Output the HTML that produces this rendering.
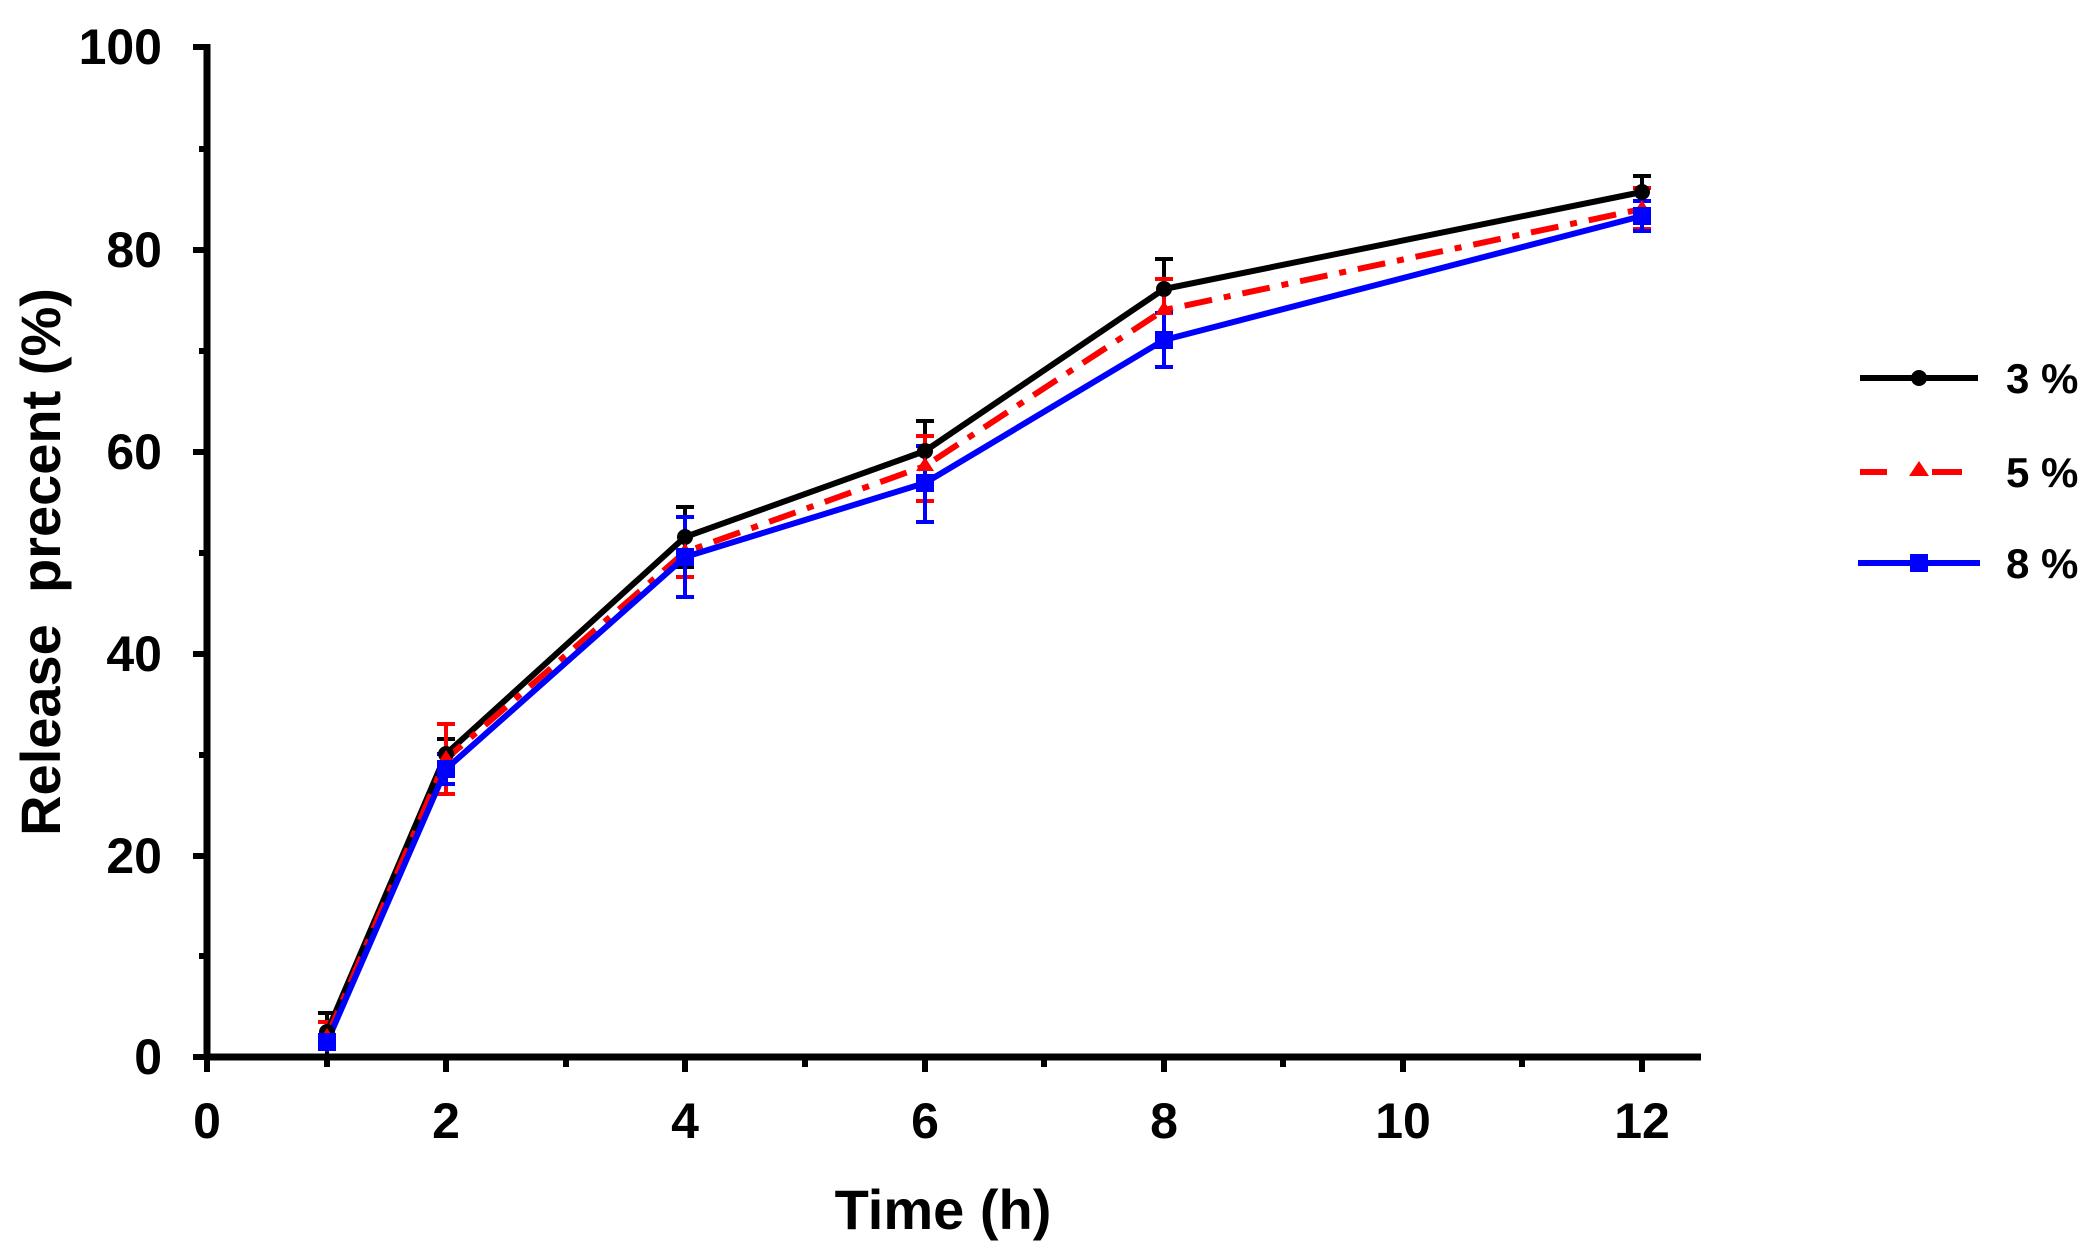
<!DOCTYPE html>
<html><head><meta charset="utf-8"><style>
html,body{margin:0;padding:0;background:#fff;}
svg{display:block;font-family:"Liberation Sans",Arial,sans-serif;font-weight:bold;}
</style></head><body>
<svg width="2097" height="1256" viewBox="0 0 2097 1256" xmlns="http://www.w3.org/2000/svg">
<g stroke="#000" stroke-width="7" fill="none">
<line x1="207" y1="44" x2="207" y2="1060"/>
<line x1="204" y1="1057" x2="1701" y2="1057"/>
<g stroke-width="6">
<line x1="193" y1="1057" x2="207" y2="1057"/><line x1="193" y1="856" x2="207" y2="856"/>
<line x1="193" y1="654" x2="207" y2="654"/><line x1="193" y1="452" x2="207" y2="452"/>
<line x1="193" y1="250" x2="207" y2="250"/><line x1="193" y1="47" x2="207" y2="47"/>
<line x1="199" y1="956" x2="207" y2="956"/><line x1="199" y1="755" x2="207" y2="755"/>
<line x1="199" y1="553" x2="207" y2="553"/><line x1="199" y1="351" x2="207" y2="351"/>
<line x1="199" y1="149" x2="207" y2="149"/>
<line x1="207" y1="1057" x2="207" y2="1072"/><line x1="446" y1="1057" x2="446" y2="1072"/>
<line x1="685" y1="1057" x2="685" y2="1072"/><line x1="925" y1="1057" x2="925" y2="1072"/>
<line x1="1164" y1="1057" x2="1164" y2="1072"/><line x1="1403" y1="1057" x2="1403" y2="1072"/>
<line x1="1642" y1="1057" x2="1642" y2="1072"/>
<line x1="327" y1="1057" x2="327" y2="1067"/><line x1="566" y1="1057" x2="566" y2="1067"/>
<line x1="805" y1="1057" x2="805" y2="1067"/><line x1="1044" y1="1057" x2="1044" y2="1067"/>
<line x1="1283" y1="1057" x2="1283" y2="1067"/><line x1="1522" y1="1057" x2="1522" y2="1067"/>
</g>
</g>
<g font-size="50" text-anchor="end">
<text x="162" y="1074">0</text><text x="162" y="873">20</text><text x="162" y="671">40</text>
<text x="162" y="469">60</text><text x="162" y="267">80</text><text x="162" y="64">100</text>
</g>
<g font-size="50" text-anchor="middle">
<text x="207" y="1138">0</text><text x="446" y="1138">2</text><text x="685" y="1138">4</text>
<text x="925" y="1138">6</text><text x="1164" y="1138">8</text><text x="1403" y="1138">10</text>
<text x="1642" y="1138">12</text>
<text x="943" y="1229" font-size="56">Time (h)</text>
<text transform="translate(60,562) rotate(-90)" font-size="56" xml:space="preserve">Release  precent (%)</text>
</g>
<g stroke-width="4" fill="none">
<g stroke="#000">
<path d="M327 1013V1057M318 1013H336M446 739V774M437 739H455M437 774H455M685 507V567M676 507H694M676 567H694M925 421V481M916 421H934M916 481H934M1164 259V320M1155 259H1173M1642 176V207M1633 176H1651"/>
</g>
<g stroke="#f00">
<path d="M327 1022V1052M318 1022H336M446 724V794M437 724H455M437 794H455M685 517V577M676 517H694M676 577H694M925 436V501M916 436H934M916 501H934M1164 279V340M1155 279H1173M1155 340H1173M1642 188V229M1633 188H1651M1633 229H1651"/>
</g>
<g stroke="#00f">
<path d="M327 1030V1052M446 754V784M437 754H455M437 784H455M685 517V597M676 517H694M676 597H694M925 446V522M916 446H934M916 522H934M1164 313V367M1155 313H1173M1155 367H1173M1642 201V231M1633 201H1651M1633 231H1651"/>
</g>
</g>
<polyline fill="none" stroke="#000" stroke-width="6" points="327,1032 446,754 685,537 925,451 1164,289 1642,192"/>
<polyline fill="none" stroke="#f00" stroke-width="6" stroke-dasharray="28,12,7,12" points="327,1037 446,759 685,552 925,466 1164,310 1642,209"/>
<polyline fill="none" stroke="#00f" stroke-width="6" points="327,1042 446,769 685,557 925,483 1164,340 1642,216"/>
<g fill="#000"><circle cx="327" cy="1032" r="8"/><circle cx="446" cy="754" r="8"/><circle cx="685" cy="537" r="8"/><circle cx="925" cy="451" r="8"/><circle cx="1164" cy="289" r="8"/><circle cx="1642" cy="192" r="8"/></g>
<g fill="#f00"><path d="M327 1028l9 14h-18z"/><path d="M446 750l9 14h-18z"/><path d="M685 543l9 14h-18z"/><path d="M925 457l9 14h-18z"/><path d="M1164 301l9 14h-18z"/><path d="M1642 200l9 14h-18z"/></g>
<g fill="#00f"><rect x="318" y="1033" width="18" height="18"/><rect x="437" y="760" width="18" height="18"/><rect x="676" y="548" width="18" height="18"/><rect x="916" y="474" width="18" height="18"/><rect x="1155" y="331" width="18" height="18"/><rect x="1633" y="207" width="18" height="18"/></g>
<line x1="1860" y1="378" x2="1978" y2="378" stroke="#000" stroke-width="6"/>
<circle cx="1919" cy="378" r="8" fill="#000"/>
<path d="M1860 472H1887M1932 472H1962" stroke="#f00" stroke-width="6"/>
<path d="M1919 461l10 15h-20z" fill="#f00"/>
<line x1="1858" y1="563" x2="1980" y2="563" stroke="#00f" stroke-width="6"/>
<rect x="1910" y="554" width="18" height="18" fill="#00f"/>
<g font-size="42">
<text x="2006" y="393">3 %</text><text x="2006" y="487">5 %</text><text x="2006" y="578">8 %</text>
</g>
</svg>
</body></html>
